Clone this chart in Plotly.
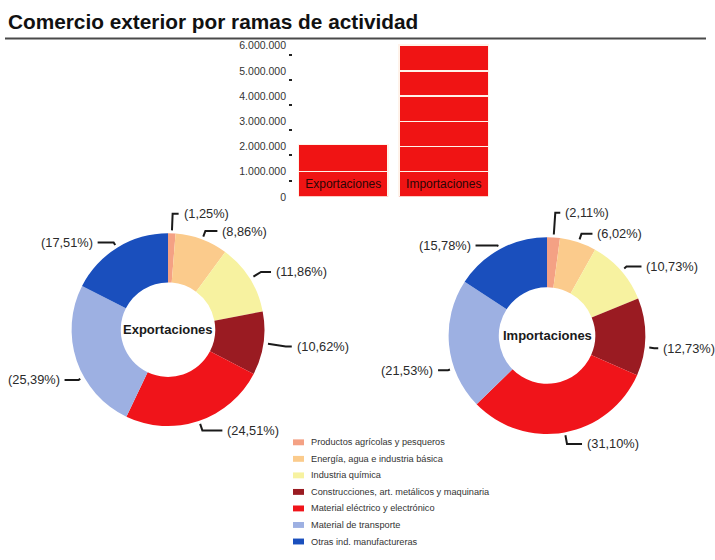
import math
import plotly.graph_objects as go

# ---------------- data ----------------
title_text = "Comercio exterior por ramas de actividad"
bar_categories = ["Exportaciones", "Importaciones"]
bar_values = [2080000, 6040000]
bar_tickvals = [0, 1000000, 2000000, 3000000, 4000000, 5000000, 6000000]
segment_size = 1000000

branch_labels = [
    "Productos agrícolas y pesqueros",
    "Energía, agua e industria básica",
    "Industria química",
    "Construcciones, art. metálicos y maquinaria",
    "Material eléctrico y electrónico",
    "Material de transporte",
    "Otras ind. manufactureras",
]
export_pct = [1.25, 8.86, 11.86, 10.62, 24.51, 25.39, 17.51]
import_pct = [2.11, 6.02, 10.73, 12.73, 31.10, 21.53, 15.78]
branch_colors = ["#F4A184", "#FBCB8C", "#F7F2A0", "#9A1B22", "#F0141A", "#9DB0E2", "#1A4FBD"]

# ---------------- layout constants ----------------
W, H = 715, 560
FONT = "Liberation Sans, Arial, Helvetica, sans-serif"
TXT = "#2a2a2a"

# leader-line styling per slice: (angle shift in degrees, radial extension, horizontal run)
export_leaders = [(0, 17, 6), (0, 6, 12), (0, 9, 10), (0, 18, 6), (0, 7, 20), (-11, 2, 14), (0, 3, 16)]
import_leaders = [(0, 22, 5), (0, 6, 11), (0, 3, 15), (6, 5, 4), (0, 9, 15), (-14, 2, 10), (0, 1, 22)]

# bar panel geometry (pixels)
BAR_TOP, BAR_ZERO = 40, 197
Y_MAX = 6137000
TICK_DROP_PX = 9  # printed tick dashes sit slightly below their labels


def px(x):
    return x / W


def py(y):
    return 1 - y / H


fig = go.Figure()

# ---------------- segmented bars (one block per million, remainder merged on top) ----------------
segs = []
for v in bar_values:
    n = max(1, round(v / segment_size))
    blocks = [segment_size] * (n - 1)
    blocks.append(v - segment_size * (n - 1))
    segs.append(blocks)
max_n = max(len(s) for s in segs)
for k in range(max_n):
    yv = [s[k] if k < len(s) else 0 for s in segs]
    fig.add_trace(go.Bar(
        x=bar_categories, y=yv,
        marker=dict(color="#F01414", line=dict(color="#FFF3EA", width=1.6)),
        text=bar_categories if k == 0 else None,
        textposition="inside" if k == 0 else "none",
        insidetextanchor="middle",
        textangle=0,
        textfont=dict(family=FONT, size=12, color="#2b0606"),
        hoverinfo="skip", showlegend=False,
        xaxis="x", yaxis="y",
    ))

# ---------------- donuts ----------------
pies = [
    dict(name="Exportaciones", vals=export_pct, cx=168, cy=332, r=98, leaders=export_leaders),
    dict(name="Importaciones", vals=import_pct, cx=547, cy=338, r=100, leaders=import_leaders),
]
annotations = []
shapes = []
for p in pies:
    cx, cy, r = p["cx"], p["cy"], p["r"]
    fig.add_trace(go.Pie(
        values=p["vals"], labels=branch_labels,
        marker=dict(colors=branch_colors, line=dict(width=0)),
        hole=0.49, sort=False, direction="clockwise", rotation=0,
        textinfo="none", hoverinfo="label+percent", showlegend=False,
        domain=dict(x=[px(cx - r), px(cx + r)], y=[py(cy + r), py(cy - r)]),
    ))
    annotations.append(dict(
        x=px(cx), y=py(cy), xref="paper", yref="paper", text="<b>%s</b>" % p["name"],
        showarrow=False, font=dict(family=FONT, size=13, color="#1a1a1a"),
        xanchor="center", yanchor="middle",
    ))
    total = sum(p["vals"])
    cum = 0
    for v, (shift, ext, run) in zip(p["vals"], p["leaders"]):
        mid = (cum + v / 2) / total * 2 * math.pi + math.radians(shift)
        cum += v
        ux, uy = math.sin(mid), -math.cos(mid)
        side = 1 if ux >= -0.02 else -1
        ax, ay = cx + (r + 3) * ux, cy + (r + 3) * uy
        bx, by = cx + (r + 3 + ext) * ux, cy + (r + 3 + ext) * uy
        dx = bx + side * run
        shapes.append(dict(
            type="path", xref="paper", yref="paper",
            path="M %f %f L %f %f L %f %f" % (px(ax), py(ay), px(bx), py(by), px(dx), py(by)),
            line=dict(color="#1a1a1a", width=2),
        ))
        label = ("(%.2f%%)" % v).replace(".", ",")
        annotations.append(dict(
            x=px(dx + side * 3), y=py(by), xref="paper", yref="paper", text=label,
            showarrow=False, font=dict(family=FONT, size=12.8, color=TXT),
            xanchor="left" if side > 0 else "right", yanchor="middle",
        ))

# ---------------- legend (manual) ----------------
leg_x, leg_y0, leg_dy = 293, 446.5, 16.8
for i, (lab, col) in enumerate(zip(branch_labels, branch_colors)):
    yy = leg_y0 + i * leg_dy
    shapes.append(dict(
        type="rect", xref="paper", yref="paper",
        x0=px(leg_x), x1=px(leg_x + 11), y0=py(yy + 3), y1=py(yy - 3),
        fillcolor=col, line=dict(width=0),
    ))
    annotations.append(dict(
        x=px(leg_x + 16), y=py(yy), xref="paper", yref="paper", text=lab,
        showarrow=False, font=dict(family=FONT, size=9.2, color="#333333"),
        xanchor="left", yanchor="middle",
    ))

# ---------------- title ----------------
annotations.append(dict(
    x=px(6), y=py(19), xref="paper", yref="paper", text="<b>%s</b>" % title_text,
    showarrow=False, font=dict(family=FONT, size=20.8, color="#111111"),
    xanchor="left", yanchor="middle",
))
shapes.append(dict(
    type="line", xref="paper", yref="paper", x0=px(5), x1=px(706), y0=py(36), y1=py(36),
    line=dict(color="#4a4a4a", width=2),
))

# tick dashes on an overlaid axis whose range is shifted a few pixels
px_per_unit = (BAR_ZERO - BAR_TOP) / Y_MAX
drop = TICK_DROP_PX / px_per_unit

fig.update_layout(
    width=W, height=H,
    margin=dict(l=0, r=0, t=0, b=0),
    paper_bgcolor="white", plot_bgcolor="white",
    separators=",.",
    barmode="stack", bargap=0.11,
    font=dict(family=FONT, color=TXT),
    xaxis=dict(domain=[px(293), px(494)], showticklabels=False, showgrid=False,
               zeroline=False, showline=False, ticks=""),
    yaxis=dict(domain=[py(BAR_ZERO), py(BAR_TOP)], range=[0, Y_MAX], tickvals=bar_tickvals,
               tickformat=",d", showgrid=False, zeroline=False, showline=False,
               ticks="", ticklabelstandoff=6,
               tickfont=dict(family=FONT, size=10.5, color="#333333")),
    yaxis2=dict(overlaying="y", side="left", range=[drop, Y_MAX + drop],
                tickvals=bar_tickvals[1:], showticklabels=False, showgrid=False,
                zeroline=False, showline=False, ticks="outside", ticklen=3,
                tickwidth=2, tickcolor="#222222"),
    annotations=annotations,
    shapes=shapes,
    showlegend=False,
)
# invisible anchor trace so the overlaid tick axis is drawn
fig.add_trace(go.Scatter(x=[bar_categories[0]], y=[None], yaxis="y2", xaxis="x",
                         mode="markers", hoverinfo="skip", showlegend=False))

page_css = (
    "var s=document.createElement('style');"
    "s.textContent='html,body{margin:0;padding:0;overflow:hidden;width:715px;height:560px;}';"
    "document.head.appendChild(s);"
)
fig.write_html("out.html", config={"displayModeBar": False}, post_script=page_css)
